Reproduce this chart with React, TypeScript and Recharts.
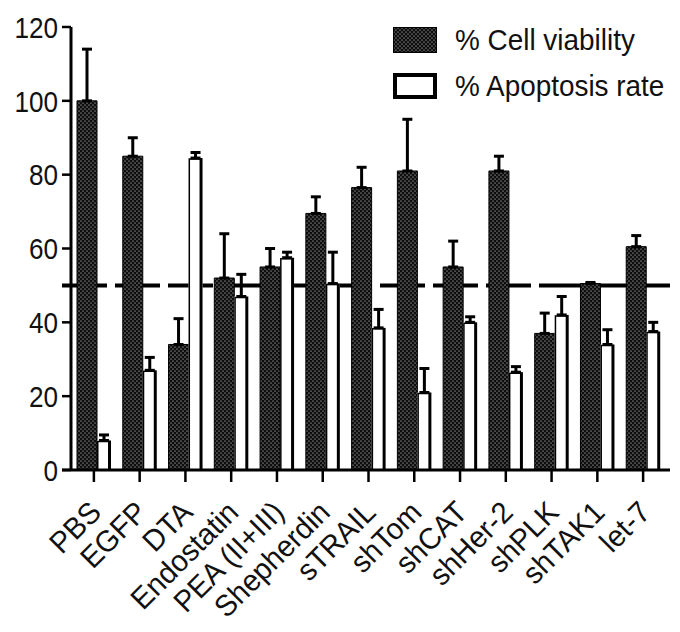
import * as React from "react"
import {
  Bar,
  BarChart,
  ErrorBar,
  Legend,
  ReferenceLine,
  XAxis,
  YAxis,
} from "recharts"

const FONT = '"Liberation Sans", Arial, Helvetica, sans-serif'
const FONT_SIZE = 30
// the scanned lettering is a little narrower than Arial
const Y_SQUEEZE = 0.87
const X_SQUEEZE = 0.97
const LEGEND_SQUEEZE = 0.93

const categories = [
  "PBS",
  "EGFP",
  "DTA",
  "Endostatin",
  "PEA (II+III)",
  "Shepherdin",
  "sTRAIL",
  "shTom",
  "shCAT",
  "shHer-2",
  "shPLK",
  "shTAK1",
  "let-7",
]
const viability = [100, 85, 34, 52, 55, 69.5, 76.5, 81, 55, 81, 37, 50.5, 60.5]
const viabilityErr = [14, 5, 7, 12, 5, 4.5, 5.5, 14, 7, 4, 5.5, 0.3, 3]
const apoptosis = [8, 27, 84.5, 47, 57.5, 50.5, 38.5, 21, 40, 26.5, 42, 34, 37.5]
const apoptosisErr = [1.5, 3.5, 1.5, 6, 1.5, 8.5, 5, 6.5, 1.5, 1.5, 5, 4, 2.5]
const yTicks = [0, 20, 40, 60, 80, 100, 120]
const threshold = 50
const seriesOrder = ["viability", "apoptosis"]

const data = categories.map((name, i) => ({
  name,
  viability: viability[i],
  viabilityErr: [0, viabilityErr[i]],
  apoptosis: apoptosis[i],
  apoptosisErr: [0, apoptosisErr[i]],
}))

function DotPattern({ id }: { id: string }) {
  return (
    <pattern id={id} width={4} height={4} patternUnits="userSpaceOnUse">
      <rect width={4} height={4} fill="#0d0d0d" />
      <circle cx={1} cy={1} r={0.55} fill="#fff" />
      <circle cx={3} cy={3} r={0.55} fill="#fff" />
    </pattern>
  )
}

// white bar with the heavier right edge of the scanned figure
function OpenBar(props: any) {
  const { x, y, width, height } = props
  if (!height || height <= 0) return null
  return (
    <g>
      <rect x={x} y={y} width={width} height={height} fill="#fff" />
      <path
        d={`M${x + 0.75},${y + height} V${y + 1} H${x + width - 1.5}`}
        fill="none"
        stroke="#000"
        strokeWidth={1.5}
      />
      <line
        x1={x + width - 1.5}
        x2={x + width - 1.5}
        y1={y}
        y2={y + height}
        stroke="#000"
        strokeWidth={3}
      />
    </g>
  )
}

function YTick({ x, y, payload }: any) {
  return (
    <g>
      <line x1={x} x2={x + 9} y1={y} y2={y} stroke="#000" strokeWidth={2.5} />
      <text
        transform={`translate(${x - 4},${y}) scale(${Y_SQUEEZE},1)`}
        dy="0.36em"
        textAnchor="end"
        fontSize={FONT_SIZE}
        fontFamily={FONT}
        fill="#111"
      >
        {payload.value}
      </text>
    </g>
  )
}

function XTick({ x, y, payload }: any) {
  return (
    <text
      transform={`translate(${x + 9},${y + 30}) rotate(-45) scale(${X_SQUEEZE},1)`}
      textAnchor="end"
      fontSize={FONT_SIZE}
      fontFamily={FONT}
      fill="#111"
    >
      {payload.value}
    </text>
  )
}

function LegendContent({ payload }: any) {
  const items = [...(payload ?? [])].sort(
    (a: any, b: any) => seriesOrder.indexOf(a.dataKey) - seriesOrder.indexOf(b.dataKey)
  )
  return (
    <div style={{ fontFamily: FONT, fontSize: FONT_SIZE, color: "#111" }}>
      {items.map((entry: any, i: number) => (
        <div
          key={entry.value}
          style={{ display: "flex", alignItems: "center", height: 46, whiteSpace: "nowrap" }}
        >
          <svg width={44} height={26} style={{ marginRight: 18, flex: "none" }}>
            <defs>
              <DotPattern id={`legendDots${i}`} />
            </defs>
            {entry.dataKey === "viability" ? (
              <rect x={0.5} y={0.5} width={43} height={25} fill={`url(#legendDots${i})`} stroke="#000" />
            ) : (
              <rect x={2} y={2} width={40} height={22} fill="#fff" stroke="#000" strokeWidth={4} />
            )}
          </svg>
          <span
            style={{
              display: "inline-block",
              transform: `scaleX(${LEGEND_SQUEEZE})`,
              transformOrigin: "left center",
            }}
          >
            {entry.value}
          </span>
        </div>
      ))}
    </div>
  )
}

export default function App() {
  return (
    <div
      style={{
        position: "absolute",
        left: 0,
        top: 0,
        width: 680,
        height: 632,
        background: "#fff",
        overflow: "hidden",
      }}
    >
      <BarChart
        width={680}
        height={632}
        data={data}
        barGap={0}
        margin={{ top: 27, right: 10, left: 0, bottom: 12 }}
      >
        <defs>
          <DotPattern id="dots" />
        </defs>
        <XAxis
          dataKey="name"
          interval={0}
          height={150}
          padding={{ left: 9, right: 4 }}
          axisLine={{ stroke: "#000", strokeWidth: 3 }}
          tickLine={{ stroke: "#000", strokeWidth: 2.5 }}
          tickSize={12}
          tick={<XTick />}
        />
        <YAxis
          width={62}
          domain={[0, 120]}
          ticks={yTicks}
          allowDataOverflow
          axisLine={false}
          tickLine={false}
          tickSize={0}
          tickMargin={0}
          tick={<YTick />}
        />
        <Legend
          layout="vertical"
          align="center"
          verticalAlign="middle"
          itemSorter={(item: any) => seriesOrder.indexOf(item.dataKey)}
          content={<LegendContent />}
          wrapperStyle={{ position: "absolute", left: 393, top: 17, width: 287 }}
        />
        <ReferenceLine
          y={threshold}
          stroke="#000"
          strokeWidth={4}
          strokeDasharray="45 8"
          zIndex={100}
        />
        <Bar
          dataKey="viability"
          name="% Cell viability"
          barSize={20}
          fill="url(#dots)"
          stroke="#000"
          strokeWidth={1}
          isAnimationActive={false}
        >
          <ErrorBar dataKey="viabilityErr" direction="y" width={5} strokeWidth={3} stroke="#000" />
        </Bar>
        <Bar
          dataKey="apoptosis"
          name="% Apoptosis rate"
          barSize={14}
          fill="#fff"
          shape={<OpenBar />}
          isAnimationActive={false}
        >
          <ErrorBar dataKey="apoptosisErr" direction="y" width={5} strokeWidth={3} stroke="#000" />
        </Bar>
        <ReferenceLine
          x={categories[0]}
          position="start"
          stroke="#000"
          strokeWidth={3}
        />
      </BarChart>
    </div>
  )
}
